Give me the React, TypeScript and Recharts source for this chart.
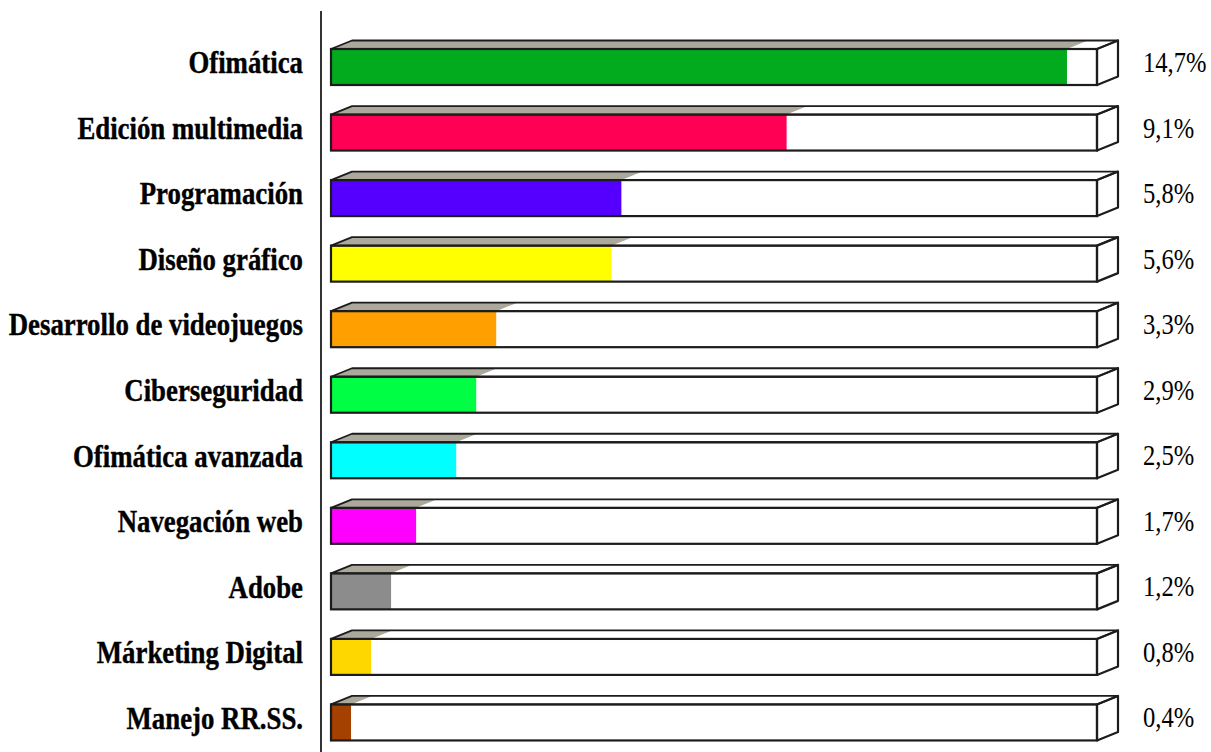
import React from "react";
import { BarChart, Bar, XAxis, YAxis, LabelList } from "recharts";

const categories = [
  "Ofimática",
  "Edición multimedia",
  "Programación",
  "Diseño gráfico",
  "Desarrollo de videojuegos",
  "Ciberseguridad",
  "Ofimática avanzada",
  "Navegación web",
  "Adobe",
  "Márketing Digital",
  "Manejo RR.SS.",
];
const values = [14.7, 9.1, 5.8, 5.6, 3.3, 2.9, 2.5, 1.7, 1.2, 0.8, 0.4];
const colors = [
  "#02aa1e",
  "#ff0055",
  "#5500ff",
  "#ffff00",
  "#ffa000",
  "#00ff44",
  "#00ffff",
  "#ff00ff",
  "#8c8c8c",
  "#ffd700",
  "#a44000",
];
const SCALE_MAX = 15.3;

const data = categories.map((name, i) => ({
  name,
  value: values[i],
  color: colors[i],
  total: SCALE_MAX,
}));

const FONT = '"Liberation Serif", "Times New Roman", serif';
const DX = 21;
const DY = 8.5;
const STROKE = "#1c1c1c";
const TOP_GREY = "#aca89c";

const BoxShape = (props: any) => {
  const { x, y, width, height, payload } = props;
  const fw = (width * payload.total) / payload.value;
  const topFull = `${x},${y} ${x + DX},${y - DY} ${x + fw + DX},${y - DY} ${x + fw},${y}`;
  const right = `${x + fw},${y} ${x + fw + DX},${y - DY} ${x + fw + DX},${y + height - DY} ${x + fw},${y + height}`;
  const topVal = `${x},${y} ${x + DX},${y - DY} ${x + width + DX},${y - DY} ${x + width},${y}`;
  return (
    <g>
      <polygon points={topFull} fill="#ffffff" />
      <polygon points={right} fill="#ffffff" />
      <rect x={x} y={y} width={fw} height={height} fill="#ffffff" />
      <polygon points={topVal} fill={TOP_GREY} />
      <rect x={x} y={y} width={width} height={height} fill={payload.color} />
      <polygon points={topFull} fill="none" stroke={STROKE} strokeWidth={1.8} strokeLinejoin="round" />
      <polygon points={right} fill="none" stroke={STROKE} strokeWidth={2.2} strokeLinejoin="round" />
      <rect x={x} y={y} width={fw} height={height} fill="none" stroke={STROKE} strokeWidth={2.2} />
    </g>
  );
};

const CatTick = (props: any) => {
  const { x, y, payload } = props;
  return (
    <g transform={`translate(${x},${y + 6.5}) scale(0.865,1)`}>
      <text
        textAnchor="end"
        fontSize={31}
        fontWeight="bold"
        fill="#000"
        stroke="#000"
        strokeWidth={0.4}
        fontFamily={FONT}
      >
        {payload.value}
      </text>
    </g>
  );
};

const ValueLabel = (props: any) => {
  const { x, y, width, height, value, index } = props;
  const fw = (width * data[index].total) / value;
  const lx = x + fw + 46;
  const ly = y + height / 2 + 5;
  const txt = Number(value).toFixed(1).replace(".", ",") + "%";
  return (
    <g transform={`translate(${lx},${ly}) scale(0.82,1)`}>
      <text textAnchor="start" fontSize={30} fill="#000" fontFamily={FONT}>
        {txt}
      </text>
    </g>
  );
};

export default function App() {
  return (
    <div style={{ position: "absolute", left: 0, top: 0, background: "#fff" }}>
      <BarChart
        width={1211}
        height={755}
        layout="vertical"
        data={data}
        margin={{ top: 11, right: 114, bottom: 0, left: 0 }}
      >
        <XAxis
          type="number"
          domain={[0, SCALE_MAX]}
          hide
          padding={{ left: 10, right: 0 }}
        />
        <YAxis
          type="category"
          dataKey="name"
          width={321}
          axisLine={{ stroke: "#333", strokeWidth: 2 }}
          tickLine={false}
          tickSize={0}
          tickMargin={18}
          padding={{ top: 23, bottom: 0 }}
          tick={<CatTick />}
          interval={0}
        />
        <Bar dataKey="value" barSize={36} isAnimationActive={false} shape={BoxShape}>
          <LabelList dataKey="value" content={ValueLabel} />
        </Bar>
      </BarChart>
    </div>
  );
}
